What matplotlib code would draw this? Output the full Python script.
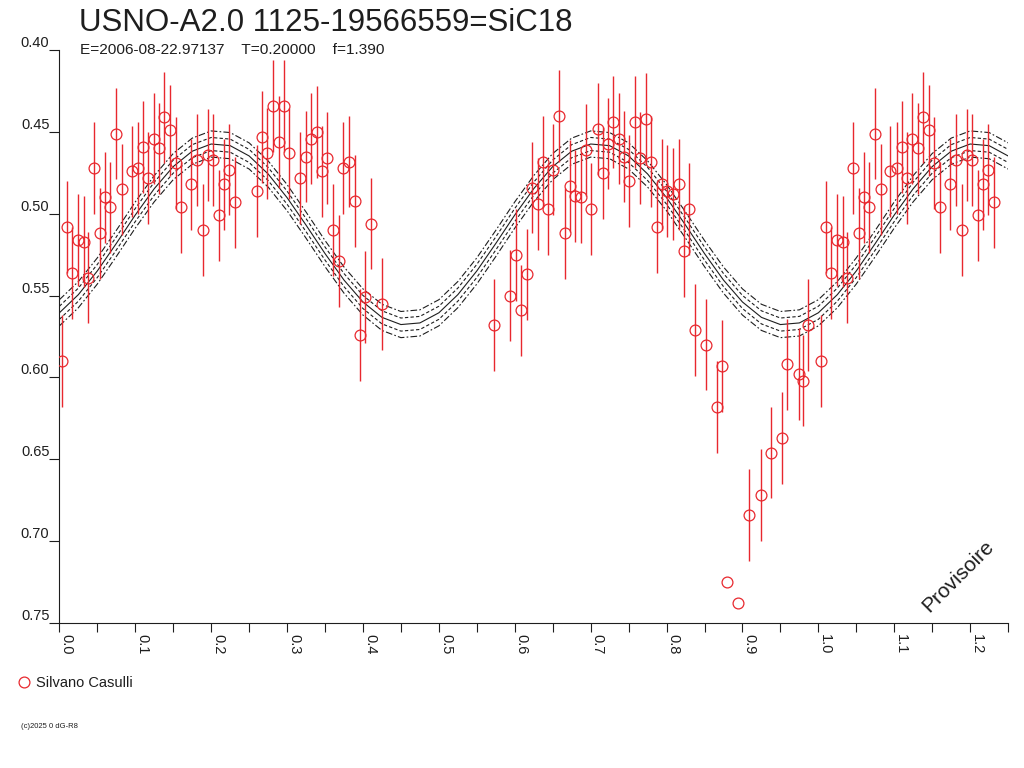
import numpy as np
import matplotlib
matplotlib.use("Agg")
import matplotlib.pyplot as plt

# observations (phase 0..1), magnitude and error
phase = [0.003, 0.010, 0.017, 0.024, 0.032, 0.038, 0.046, 0.053, 0.060, 0.067,
         0.074, 0.082, 0.095, 0.103, 0.110, 0.117, 0.124, 0.131, 0.138, 0.146,
         0.153, 0.160, 0.174, 0.181, 0.189, 0.196, 0.203, 0.210, 0.217, 0.224,
         0.231, 0.261, 0.267, 0.274, 0.282, 0.289, 0.296, 0.303, 0.317, 0.325,
         0.332, 0.339, 0.346, 0.353, 0.361, 0.368, 0.374, 0.382, 0.389, 0.396,
         0.403, 0.410, 0.425, 0.573, 0.594, 0.601, 0.608, 0.616, 0.623, 0.630,
         0.637, 0.644, 0.651, 0.658, 0.666, 0.673, 0.680, 0.687, 0.694, 0.701,
         0.709, 0.716, 0.723, 0.730, 0.737, 0.744, 0.751, 0.758, 0.765, 0.773,
         0.780, 0.787, 0.794, 0.801, 0.809, 0.816, 0.823, 0.830, 0.837, 0.852,
         0.866, 0.873, 0.880, 0.894, 0.909, 0.924, 0.937, 0.952, 0.959, 0.974,
         0.980, 0.987]
mag = [0.590, 0.508, 0.536, 0.516, 0.517, 0.539, 0.472, 0.512, 0.490, 0.496,
       0.451, 0.485, 0.474, 0.472, 0.459, 0.478, 0.454, 0.460, 0.441, 0.449,
       0.469, 0.496, 0.482, 0.467, 0.510, 0.464, 0.467, 0.501, 0.482, 0.473,
       0.493, 0.486, 0.453, 0.463, 0.434, 0.456, 0.434, 0.463, 0.478, 0.465,
       0.454, 0.450, 0.474, 0.466, 0.510, 0.529, 0.472, 0.468, 0.492, 0.574,
       0.551, 0.506, 0.555, 0.568, 0.550, 0.525, 0.559, 0.537, 0.484, 0.494,
       0.468, 0.497, 0.473, 0.440, 0.512, 0.483, 0.489, 0.490, 0.461, 0.497,
       0.448, 0.475, 0.457, 0.444, 0.454, 0.465, 0.480, 0.444, 0.466, 0.442,
       0.468, 0.508, 0.482, 0.486, 0.488, 0.482, 0.523, 0.497, 0.571, 0.580,
       0.618, 0.593, 0.725, 0.738, 0.684, 0.672, 0.646, 0.637, 0.592, 0.598,
       0.602, 0.568]
err = [0.028] * 92 + [0.0, 0.0] + [0.028] * 8

# fitted light curve, one cycle (period 0.5 in phase)
fit_phase = np.linspace(0.0, 0.5, 21)
fit_mag = [0.5605, 0.5494, 0.5349, 0.5181, 0.5007, 0.4846, 0.4711, 0.4617,
           0.4573, 0.4583, 0.4646, 0.4756, 0.4901, 0.5069, 0.5243, 0.5405,
           0.5539, 0.5633, 0.5677, 0.5667, 0.5605]
band_inner = 0.004
band_outer = 0.008

xticks_major = [0.0, 0.1, 0.2, 0.3, 0.4, 0.5, 0.6, 0.7, 0.8, 0.9, 1.0, 1.1, 1.2]
xticks_minor = [0.05, 0.15, 0.25, 0.35, 0.45, 0.55, 0.65, 0.75, 0.85, 0.95,
                1.05, 1.15, 1.25]
yticks = [0.40, 0.45, 0.50, 0.55, 0.60, 0.65, 0.70, 0.75]

plt.rcParams['font.family'] = ['Liberation Sans', 'DejaVu Sans']
RED = '#e8282e'
INK = '#1e1e1e'

fig = plt.figure(figsize=(10.24, 7.68), dpi=100)
ax = fig.add_axes([59.4 / 1024, 145.3 / 768, 948.7 / 1024, 572.4 / 768])

# curve and bands, repeated over 0..1.25
fp = np.asarray(fit_phase)
fm = np.asarray(fit_mag)
cx = np.concatenate([fp, fp[1:] + 0.5, fp[1:11] + 1.0])
cy = np.concatenate([fm, fm[1:], fm[1:11]])
lw = 0.8
ax.plot(cx, cy, color=INK, lw=lw, zorder=1)
for off in (-band_inner, band_inner):
    ax.plot(cx, cy + off, color=INK, lw=lw, dashes=(3, 2), zorder=1)
for off in (-band_outer, band_outer):
    ax.plot(cx, cy + off, color=INK, lw=lw, dashes=(6, 2, 1.5, 2), zorder=1)

# data, with phases < 0.25 repeated after 1.0
ph = np.asarray(phase)
mg = np.asarray(mag)
er = np.asarray(err)
rep = ph < 0.25
px = np.concatenate([ph, ph[rep] + 1.0])
py = np.concatenate([mg, mg[rep]])
pe = np.concatenate([er, er[rep]])
has = pe > 0
ax.vlines(px[has], py[has] - pe[has], py[has] + pe[has], color=RED, lw=1.0, zorder=2)
ax.plot(px, py, 'o', ms=7.8, mfc='none', mec=RED, mew=0.9, zorder=3)

ax.set_xlim(0, 1.25)
ax.set_ylim(0.75, 0.40)
for s in ('top', 'right'):
    ax.spines[s].set_visible(False)
for s in ('left', 'bottom'):
    ax.spines[s].set_color(INK)
    ax.spines[s].set_linewidth(0.8)

ax.set_xticks(xticks_major)
ax.set_xticklabels(['%.1f' % v for v in xticks_major])
ax.set_xticks(xticks_minor, minor=True)
ax.set_yticks(yticks)
ax.set_yticklabels(['%.2f' % v for v in yticks])
ax.tick_params(axis='x', which='both', direction='out', length=6.5, width=0.8,
               color=INK, labelsize=10.5, labelcolor=INK, pad=1.5, labelrotation=-90)
ax.tick_params(axis='y', direction='out', length=7.2, width=0.8, color=INK,
               labelsize=10.5, labelcolor=INK, pad=0)
for lbl in ax.get_xticklabels():
    lbl.set_ha('left')
    lbl.set_va('top')
for lbl in ax.get_yticklabels():
    lbl.set_va('bottom')

# texts
fig.text(79 / 1024, 1 - 31 / 768, 'USNO-A2.0 1125-19566559=SiC18', fontsize=22.5,
         color=INK, va='baseline', ha='left')
fig.text(80 / 1024, 1 - 54 / 768, 'E=2006-08-22.97137    T=0.20000    f=1.390',
         fontsize=11.1, color=INK, va='baseline', ha='left')
fig.text(958 / 1024, 1 - 576 / 768, 'Provisoire', fontsize=15, color=INK,
         rotation=45, ha='center', va='center')

fig.lines.append(plt.Line2D([24 / 1024], [1 - 682 / 768], marker='o', ms=7.8,
                            mfc='none', mec=RED, mew=0.9, transform=fig.transFigure))
fig.text(36 / 1024, 1 - 687 / 768, 'Silvano Casulli', fontsize=10.5, color=INK,
         va='baseline', ha='left')
fig.text(21 / 1024, 1 - 728 / 768, '(c)2025 0 dG-R8', fontsize=5.5, color=INK,
         va='baseline', ha='left')

fig.savefig('out.png', dpi=100)
